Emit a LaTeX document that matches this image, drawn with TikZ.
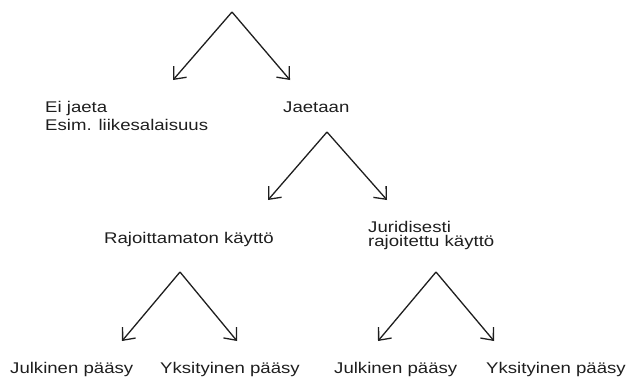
\documentclass[tikz,border=0pt]{standalone}
\usepackage{fontspec}
\setmainfont[FakeStretch=1.2]{Liberation Sans}
\usetikzlibrary{arrows.meta}
\definecolor{ink}{HTML}{1E1E1E}
\tikzset{
  branch/.style={draw=ink, line width=1.3pt, -{Straight Barb[length=10pt,width=17pt,line width=1.3pt]}},
  lbl/.style={anchor=base west, inner sep=0pt, text=ink, font=\fontsize{15.5}{17}\selectfont},
}
\begin{document}
\begin{tikzpicture}[x=1pt,y=-1pt]
  \useasboundingbox (0,0) rectangle (640,378);
  % split points and arrow ends
  \coordinate (top)  at (232,12);
  \coordinate (topL) at (173,80);
  \coordinate (topR) at (290,80);
  \coordinate (mid)  at (327,132);
  \coordinate (midL) at (268,200);
  \coordinate (midR) at (387,200);
  \coordinate (bl)   at (180,272);
  \coordinate (blL)  at (122,341);
  \coordinate (blR)  at (237,341);
  \coordinate (br)   at (436,272);
  \coordinate (brL)  at (378,341);
  \coordinate (brR)  at (494,341);
  % labels
  \node[lbl] (ei1) at (45,112) {Ei jaeta};
  \node[lbl] (ei2) at (45,130) {Esim. liikesalaisuus};
  \node[lbl] (jae) at (283,112) {Jaetaan};
  \node[lbl] (raj) at (104,243) {Rajoittamaton käyttö};
  \node[lbl] (jur1) at (368,232) {Juridisesti};
  \node[lbl] (jur2) at (368,246) {rajoitettu käyttö};
  \node[lbl] (jul1) at (10,373) {Julkinen pääsy};
  \node[lbl] (yks1) at (160,373) {Yksityinen pääsy};
  \node[lbl] (jul2) at (334,373) {Julkinen pääsy};
  \node[lbl] (yks2) at (486,373) {Yksityinen pääsy};
  % branches
  \draw[branch] (top) -- (topL);
  \draw[branch] (top) -- (topR);
  \draw[branch] (mid) -- (midL);
  \draw[branch] (mid) -- (midR);
  \draw[branch] (bl) -- (blL);
  \draw[branch] (bl) -- (blR);
  \draw[branch] (br) -- (brL);
  \draw[branch] (br) -- (brR);
\end{tikzpicture}
\end{document}
